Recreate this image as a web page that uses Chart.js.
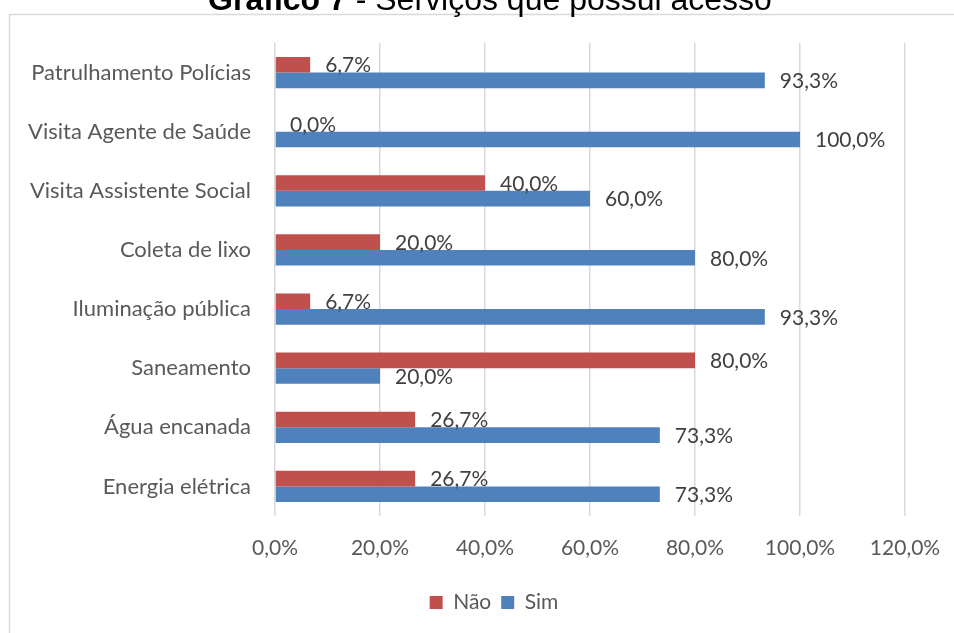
<!DOCTYPE html>
<html>
<head>
<meta charset="utf-8">
<script src="https://cdn.jsdelivr.net/npm/chart.js@4.4.1/dist/chart.umd.min.js"></script>
<style>
  html, body { margin: 0; padding: 0; background: #ffffff; }
  #wrap { position: relative; width: 954px; height: 633px; }
</style>
</head>
<body>
<div id="wrap"><canvas id="c" width="954" height="633"></canvas></div>
<script>
const categories = ['Patrulhamento Polícias', 'Visita Agente de Saúde', 'Visita Assistente Social', 'Coleta de lixo', 'Iluminação pública', 'Saneamento', 'Água encanada', 'Energia elétrica'];
const naoValues = [6.7, 0.0, 40.0, 20.0, 6.7, 80.0, 26.7, 26.7];
const simValues = [93.3, 100.0, 60.0, 80.0, 93.3, 20.0, 73.3, 73.3];
const xTicks = [0, 20, 40, 60, 80, 100, 120];
const titleBold = 'Gráfico 7';
const titleRest = ' - Serviços que possui acesso';

const fmt = v => v.toFixed(1).replace('.', ',') + '%';
const FONT = 'Lato';

const framePlugin = {
  id: 'frame',
  afterLayout(chart) {
    const lg = chart.legend;
    if (lg) {
      const d = 494 - (lg.left + lg.right) / 2;
      lg.left += d;
      lg.right += d;
    }
  },
  beforeDraw(chart) {
    const ctx = chart.ctx;
    ctx.save();
    ctx.strokeStyle = '#d9d9d9';
    ctx.lineWidth = 1.5;
    ctx.strokeRect(9.5, 14.5, 1200, 1200);
    ctx.restore();
  },
  afterDraw(chart) {
    const ctx = chart.ctx;
    ctx.save();
    ctx.fillStyle = '#000000';
    ctx.textBaseline = 'alphabetic';
    ctx.textAlign = 'left';
    ctx.font = 'bold 32px "Liberation Sans", Arial, sans-serif';
    const w1 = ctx.measureText(titleBold).width;
    ctx.font = '32px "Liberation Sans", Arial, sans-serif';
    const w2 = ctx.measureText(titleRest).width;
    const x0 = 490 - (w1 + w2) / 2;
    ctx.font = 'bold 32px "Liberation Sans", Arial, sans-serif';
    ctx.fillText(titleBold, x0, 10);
    ctx.font = '32px "Liberation Sans", Arial, sans-serif';
    ctx.fillText(titleRest, x0 + w1, 10);
    ctx.restore();
  }
};

const labelPlugin = {
  id: 'barLabels',
  afterDatasetsDraw(chart) {
    const ctx = chart.ctx;
    ctx.save();
    ctx.font = '21px ' + FONT;
    ctx.fillStyle = '#404040';
    ctx.textAlign = 'left';
    ctx.textBaseline = 'middle';
    chart.data.datasets.forEach((ds, i) => {
      const meta = chart.getDatasetMeta(i);
      meta.data.forEach((bar, j) => {
        ctx.fillText(fmt(ds.data[j]), bar.x + 15, bar.y + 1);
      });
    });
    ctx.restore();
  }
};

new Chart(document.getElementById('c'), {
  type: 'bar',
  data: {
    labels: categories,
    datasets: [
      { label: 'Não', data: naoValues, backgroundColor: '#C0504D', borderWidth: 0 },
      { label: 'Sim', data: simValues, backgroundColor: '#4F81BD', borderWidth: 0 }
    ]
  },
  options: {
    indexAxis: 'y',
    responsive: false,
    animation: false,
    devicePixelRatio: 1,
    layout: { padding: { top: 43, left: 10, right: 49, bottom: 10 } },
    datasets: { bar: { categoryPercentage: 0.53, barPercentage: 1.0 } },
    scales: {
      x: {
        min: 0, max: 120,
        afterBuildTicks(scale) { scale.ticks = xTicks.map(v => ({ value: v })); },
        afterFit(scale) { scale.height = 66; scale.paddingLeft = 0; scale.paddingRight = 0; },
        grid: { color: '#d9d9d9', lineWidth: 1.5, drawTicks: false },
        border: { display: false },
        ticks: {
          padding: 20,
          color: '#595959',
          font: { family: FONT, size: 21 },
          callback: v => fmt(v)
        }
      },
      y: {
        afterFit(scale) { scale.width = 265; },
        grid: { display: false, drawTicks: false },
        border: { display: false },
        ticks: {
          padding: 24,
          color: '#595959',
          font: { family: FONT, size: 22 }
        }
      }
    },
    plugins: {
      legend: {
        position: 'bottom',
        labels: {
          boxWidth: 13, boxHeight: 13, padding: 10,
          color: '#595959',
          font: { family: FONT, size: 21 }
        }
      },
      tooltip: { enabled: false },
      title: { display: false }
    }
  },
  plugins: [framePlugin, labelPlugin]
});
</script>
</body>
</html>
